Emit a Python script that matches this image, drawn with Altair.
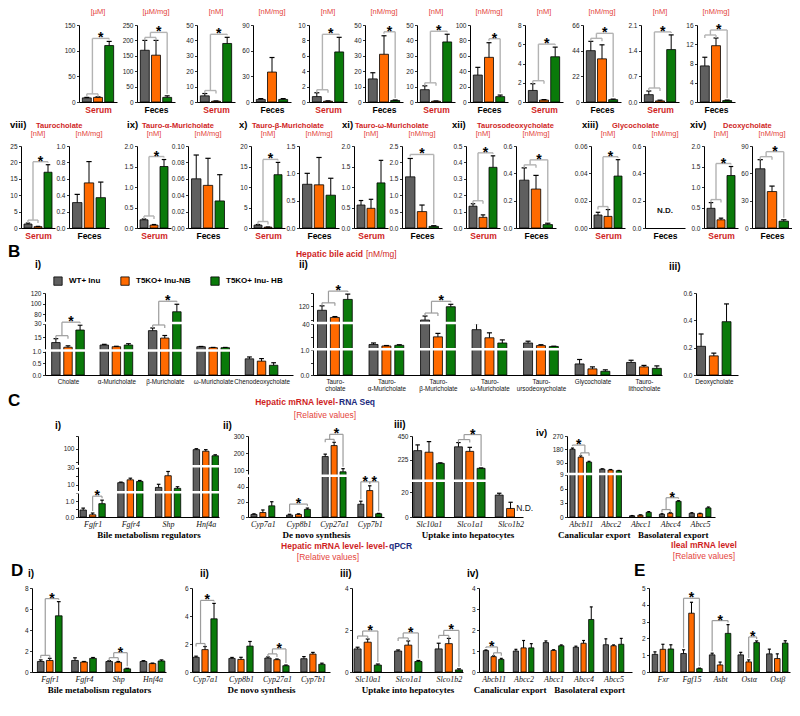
import altair as alt
import numpy as np
import pandas as pd

SANS = "Liberation Sans"
SERIF = "Liberation Serif"

GROUPS = ["WT+ Inu", "T5KO+ Inu-NB", "T5KO+ Inu- HB"]
COLORS = ["#5f5f5f", "#ff6a00", "#0a7a0a"]

UNIT_RED = "#e4443c"
HEAD_RED = "#cf1f1f"
NAVY = "#1c2b7d"

# ---------------- A (top row): serum / feces pairs ----------------
R1_UNIT = ["[µM]", "[µM/mg]", "[nM]", "[nM/mg]", "[nM]", "[nM/mg]",
           "[nM]", "[nM/mg]", "[nM]", "[nM/mg]", "[nM]", "[nM/mg]"]
R1_SITE = ["Serum", "Feces"] * 6
R1_MEAN = [[8, 9, 110], [168, 152, 15], [4, 0.5, 38], [3, 35, 3], [0.7, 0.1, 6.5], [15, 31, 1],
           [8, 0.5, 39], [35, 58, 7], [1.2, 0.2, 4.7], [44, 37, 2], [0.2, 0.03, 1.43], [7.5, 11.7, 0.3]]
R1_ERR = [[1, 1, 8], [32, 48, 5], [1.5, 0.2, 4], [1, 17, 1], [0.5, 0.05, 1.9], [4, 12, 0.3],
          [2.5, 0.2, 5], [10, 19, 2], [0.7, 0.05, 1.0], [8, 12, 0.5], [0.1, 0.02, 0.4], [1.8, 1.6, 0.1]]
R1_TICKS = [[0, 50, 100, 150], [0, 50, 100, 150, 200, 250], [0, 10, 20, 30, 40, 50], [0, 30, 60, 90],
            [0, 2, 4, 6, 8, 10], [0, 10, 20, 30, 40, 50], [0, 10, 20, 30, 40, 50], [0, 20, 40, 60, 80, 100],
            [0, 2, 4, 6, 8], [0, 22, 44, 66], [0, 0.7, 1.4, 2.1], [0, 4, 8, 12, 16]]
R1_FMT = ["d"] * 10 + [".1f", "d"]
R1_SIG = ["AB-C", "AB-C", "AB-C", None, "AB-C", "B-C", "AB-C", "B-C", "AB-C", "AB-C", "AB-C", "AB-C"]

# ---------------- A (second row) ----------------
R2_NUM = ["viii)", "ix)", "x)", "xi)", "xii)", "xiii)", "xiv)"]
R2_NAME = ["Taurocholate", "Tauro-α-Muricholate", "Tauro-β-Muricholate", "Tauro-ω-Muricholate",
           "Taurosodeoxycholate", "Glycocholate", "Deoxycholate"]
R2_UNIT = ["[nM]", "[nM/mg]"] * 7
R2_SITE = ["Serum", "Feces"] * 7
R2_MEAN = [[1.2, 0.4, 17], [0.31, 0.55, 0.37], [0.2, 0.07, 1.5], [0.06, 0.052, 0.033],
           [0.7, 0.2, 13], [0.8, 0.79, 0.6], [0.56, 0.48, 1.1], [1.56, 0.5, 0.05],
           [0.133, 0.065, 0.37], [0.35, 0.285, 0.025], [0.0095, 0.0085, 0.038], [None, None, None],
           [0.48, 0.2, 1.28], [65, 40, 7.5]]
R2_ERR = [[0.3, 0.1, 2.3], [0.1, 0.26, 0.19], [0.02, 0.015, 0.17], [0.029, 0.033, 0.032],
          [0.15, 0.05, 3], [0.2, 0.5, 0.31], [0.11, 0.22, 0.55], [0.56, 0.2, 0.02],
          [0.015, 0.015, 0.07], [0.09, 0.1, 0.01], [0.002, 0.005, 0.012], [None, None, None],
          [0.14, 0.04, 0.22], [10, 6, 1.5]]
R2_TICKS = [[0, 5, 10, 15, 20, 25], [0, 0.2, 0.4, 0.6, 0.8, 1.0], [0, 0.5, 1.0, 1.5, 2.0],
            [0, 0.02, 0.04, 0.06, 0.08, 0.1], [0, 5, 10, 15, 20], [0, 0.5, 1.0, 1.5],
            [0, 0.5, 1.0, 1.5, 2.0], [0, 0.5, 1.0, 1.5, 2.0, 2.5], [0, 0.1, 0.2, 0.3, 0.4, 0.5],
            [0, 0.2, 0.4, 0.6], [0, 0.02, 0.04, 0.06], [0, 0.2, 0.4, 0.6], [0, 0.5, 1.0, 1.5, 2.0],
            [0, 30, 60, 90]]
R2_FMT = ["d", ".1f", ".1f", ".2f", "d", ".1f", ".1f", ".1f", ".1f", ".1f", ".2f", ".1f", ".1f", "d"]
R2_SIG = ["AB-C", None, "AB-C", None, "AB-C", None, None, "A-C", "AB-C", "AB-C", "AB-C", None, "AB-C", "AB-C"]

# ---------------- B: hepatic bile acids ----------------
B1_LABELS = ["Cholate", "α-Muricholate", "β-Muricholate", "ω-Muricholate", "Chenodeoxycholate"]
B1_MEAN = [[8.8, 6.0, 22.3, 4.1, 0.70], [3.5, 4.1, 13.9, 3.0, 0.60], [23.0, 6.0, 85.0, 3.0, 0.42]]
B1_ERR = [[4.4, 0.8, 3.0, 0.3, 0.08], [1.6, 0.5, 2.9, 0.3, 0.11], [5.5, 1.5, 14.0, 0.3, 0.11]]
B1_TICKS = [0, 0.5, 1.0, 15, 30, 80, 100, 120]
B1_TEXT = ["0.0", "0.5", "1.0", "15", "30", "80", "100", "120"]
B1_SIG = [(0, "AB-C"), (2, "AB-C")]

B2_LABELS = ["Tauro-|cholate", "Tauro-|α-Muricholate", "Tauro-|β-Muricholate", "Tauro-|ω-Muricholate",
             "Tauro-|ursodeoxycholate", "Glycocholate", "Tauro-|lithocholate"]
B2_MEAN = [[102, 7.6, 58, 31.5, 10, 0.45, 0.51], [69.6, 5.2, 19.9, 18.4, 5.8, 0.25, 0.33],
           [151, 6.2, 118, 10, 4.4, 0.15, 0.27]]
B2_ERR = [[20, 2.4, 18, 12, 2.9, 0.18, 0.09], [4, 0.7, 5.6, 8, 1.4, 0.08, 0.06],
          [24, 1, 11, 5, 0.4, 0.06, 0.1]]
B2_TICKS = [0, 0.5, 1.0, 20, 40, 60, 120, 180]
B2_TEXT = ["0.0", "0.5", "1.0", "20", "40", "60", "120", "180"]
B2_SIG = [(0, "AB-C"), (2, "AB-C")]

B3_LABELS = ["Deoxycholate"]
B3_MEAN = [[0.21], [0.14], [0.39]]
B3_ERR = [[0.09], [0.02], [0.13]]
B3_TICKS = [0, 0.2, 0.4, 0.6]
B3_TEXT = ["0.0", "0.2", "0.4", "0.6"]

# ---------------- C: hepatic mRNA, RNA-seq ----------------
C1_LABELS = ["Fgfr1", "Fgfr4", "Shp", "Hnf4a"]
C1_MEAN = [[0.44, 12.4, 6.8, 97.6], [0.14, 15.8, 20.6, 91.4], [0.84, 13.9, 5.7, 74]]
C1_ERR = [[0.12, 0.7, 3.7, 3.5], [0.11, 1.9, 5, 6], [0.22, 1.1, 1.9, 3.7]]
C1_TICKS = [0, 0.5, 1.0, 1.5, 10, 20, 30, 50, 100, 150]
C1_TEXT = ["0.0", "0.5", "1.0", "1.5", "10", "20", "30", "50", "100", "150"]
C1_SIG = [(0, "B-C")]

C2_LABELS = ["Cyp7a1", "Cyp8b1", "Cyp27a1", "Cyp7b1"]
C2_MEAN = [[3.4, 2.6, 180, 16.9], [5.9, 3.4, 244, 35], [14.8, 10.1, 91, 4.3]]
C2_ERR = [[0.8, 1.0, 14, 4], [3.4, 0.8, 19, 6.3], [5.4, 1.7, 18, 0.5]]
C2_TICKS = [0, 20, 40, 100, 200, 300]
C2_TEXT = ["0", "20", "40", "100", "200", "300"]
C2_SIG = [(1, "A-C"), (2, "AB-C"), (3, "A-B"), (3, "B-C")]

C3_LABELS = ["Slc10a1", "Slco1a1", "Slco1b2"]
C3_MEAN = [[312, 348, 17.7], [297, 305, 6.9], [192, 145, None]]
C3_ERR = [[54, 40, 1.5], [100, 38, 5], [5, 4, None]]
C3_TICKS = [0, 20, 225, 450]
C3_TEXT = ["0", "20", "225", "450"]
C3_SIG = [(1, "AB-C")]

C4_LABELS = ["Abcb11", "Abcc2", "Abcc1", "Abcc4", "Abcc5"]
C4_MEAN = [[181, 48, 0.26, 0.6, 0.8], [128, 42, 0.4, 0.8, 0.7], [95, 37, 1.0, 3.36, 1.94]]
C4_ERR = [[8, 2, 0.05, 0.1, 0.12], [9, 3, 0.06, 0.15, 0.1], [5, 2, 0.15, 0.12, 0.2]]
C4_TICKS = [0, 3, 6, 9, 90, 180, 270]
C4_TEXT = ["0", "3", "6", "9", "90", "180", "270"]
C4_SIG = [(0, "A-BC"), (3, "AB-C")]

# ---------------- D: hepatic mRNA, qPCR ----------------
D1_LABELS = ["Fgfr1", "Fgfr4", "Shp", "Hnf4a"]
D1_MEAN = [[1.0, 1.1, 1.0, 1.0], [1.1, 0.95, 0.92, 0.8], [5.35, 1.3, 0.3, 1.05]]
D1_ERR = [[0.15, 0.25, 0.08, 0.08], [0.2, 0.05, 0.08, 0.05], [1.35, 0.08, 0.05, 0.1]]
D1_SIG = [(0, "AB-C"), (2, "AB-C")]

D2_LABELS = ["Cyp7a1", "Cyp8b1", "Cyp27a1", "Cyp7b1"]
D2_MEAN = [[1.05, 0.97, 1.0, 0.95], [1.6, 0.9, 0.88, 1.28], [3.8, 1.85, 0.45, 0.55]]
D2_ERR = [[0.08, 0.07, 0.08, 0.15], [0.22, 0.15, 0.05, 0.12], [1.1, 0.33, 0.05, 0.08]]
D2_SIG = [(0, "AB-C"), (2, "AB-C")]

D3_LABELS = ["Slc10a1", "Slco1a1", "Slco1b2"]
D3_MEAN = [[1.1, 1.0, 1.1], [1.42, 1.28, 1.35], [0.33, 0.5, 0.1]]
D3_ERR = [[0.08, 0.05, 0.27], [0.15, 0.2, 0.25], [0.05, 0.05, 0.05]]
D3_SIG = [(0, "AB-C"), (1, "AB-C"), (2, "AB-C")]

D4_LABELS = ["Abcb11", "Abcc2", "Abcc1", "Abcc4", "Abcc5"]
D4_MEAN = [[1.02, 1.0, 1.4, 1.18, 1.3], [0.73, 1.15, 1.03, 1.37, 1.25], [0.6, 1.15, 1.25, 2.5, 1.32]]
D4_ERR = [[0.03, 0.08, 0.08, 0.05, 0.28], [0.04, 0.35, 0.03, 0.13, 0.04], [0.05, 0.2, 0.04, 0.6, 0.28]]
D4_SIG = [(0, "A-BC")]

# ---------------- E: ileal mRNA ----------------
E_LABELS = ["Fxr", "Fgf15", "Asbt", "Ostα", "Ostβ"]
E_MEAN = [[1.05, 1.1, 1.02, 1.02, 1.08], [1.35, 3.5, 0.42, 0.6, 0.8], [1.37, 0.2, 2.3, 1.75, 1.72]]
E_ERR = [[0.15, 0.22, 0.1, 0.15, 0.28], [0.3, 0.65, 0.17, 0.12, 0.28], [0.25, 0.03, 0.52, 0.1, 0.14]]
E_SIG = [(1, "A-C"), (2, "A-C"), (3, "B-C")]

DUMMY = pd.DataFrame({"d": [0]})


def fwd_inv(dom, frac, H):
    dom = [float(v) for v in dom]
    frac = [float(v) for v in frac]

    def fwd(v):
        if v > dom[-1]:
            s = (frac[-1] - frac[-2]) / (dom[-1] - dom[-2])
            return (frac[-1] + (v - dom[-1]) * s) * H
        return float(np.interp(v, dom, frac)) * H

    def inv(p):
        f = p / H
        if f > frac[-1]:
            s = (dom[-1] - dom[-2]) / (frac[-1] - frac[-2])
            return dom[-1] + (f - frac[-1]) * s
        return float(np.interp(f, frac, dom))
    return fwd, inv


def bracket(kind, xs3, tops):
    xa, xb, xc = xs3
    ta, tb, tc = tops
    T = 3
    if kind == "AB-C":
        y1 = max(ta, tb) + 3
        y2 = max(y1 + 5, tc + 3)
        m = (xa + xb) / 2
        segs = [(xa, xa, y1 - T, y1), (xa, xb, y1, y1), (xb, xb, y1 - T, y1),
                (m, m, y1, y2), (m, xc, y2, y2), (xc, xc, min(tc + 2, y2), y2)]
        stars = [((m + xc) / 2, y2)]
    elif kind == "A-BC":
        y1 = max(tb, tc) + 3
        y2 = max(y1 + 5, ta + 3)
        m = (xb + xc) / 2
        segs = [(xb, xb, y1 - T, y1), (xb, xc, y1, y1), (xc, xc, y1 - T, y1),
                (m, m, y1, y2), (xa, m, y2, y2), (xa, xa, min(ta + 2, y2), y2)]
        stars = [((xa + m) / 2, y2)]
    else:
        p, q = kind.split("-")
        idx = {"A": 0, "B": 1, "C": 2}
        i, j = idx[p], idx[q]
        y2 = max(tops[i:j + 1]) + 4
        segs = [(xs3[i], xs3[i], tops[i] + 2, y2), (xs3[i], xs3[j], y2, y2), (xs3[j], xs3[j], tops[j] + 2, y2)]
        stars = [((xs3[i] + xs3[j]) / 2, y2)]
    return segs, stars


def lab_expr(vals, texts):
    parts = [f"datum.value == {v} ? '{t}'" for v, t in zip(vals, texts)]
    return " : ".join(parts) + " : ''"


def tmark(txt, x, y, size, color, weight, align="left", font=SANS):
    return alt.Chart(DUMMY).mark_text(text=txt, fontSize=size, color=color, fontWeight=weight, align=align,
                                      baseline="middle", font=font).encode(x=alt.value(x), y=alt.value(y))


def spacer(w):
    return alt.Chart(DUMMY).mark_text(text=" ", fontSize=1).encode(
        x=alt.value(0), y=alt.value(0)).properties(width=w, height=10)


def panel(labels, means, errs, width, height, extent, xdom, gap, bw, ydom, yfrac, yticks, ytext,
          xtitle=None, xtitle_color="black", xtitle_font=SANS, xtitle_size=8.5,
          xlabels=True, label_font=SANS, label_style="normal", label_weight="normal", label_size=7.0,
          breaks=(), sigs=(), nds=(), group_texts=(), legend=None, extras=(),
          bcolor="#9c9c9c", bwidth=1.2, star_size=14):
    step = 3 + gap
    fwd, inv = fwd_inv(ydom, yfrac, height)
    rows = []
    for i, lab in enumerate(labels):
        for g in range(3):
            m = means[g][i]
            if m is None:
                continue
            e = errs[g][i] or 0.0
            rows.append(dict(cat=lab, group=GROUPS[g], color=COLORS[g], pos=i * step + g,
                             mean=float(m), top=float(m + e), base=0.0))
    df = pd.DataFrame(rows, columns=["cat", "group", "color", "pos", "mean", "top", "base"])
    xs = alt.Scale(domain=list(xdom), nice=False, zero=False)
    if len(ydom) > 2:
        ys = alt.Scale(domain=list(ydom), range=[height * (1 - f) for f in yfrac], nice=False, zero=False)
    else:
        ys = alt.Scale(domain=list(ydom), nice=False, zero=False)
    yaxis = alt.Axis(values=list(yticks), labelExpr=lab_expr(yticks, ytext), title=None, grid=False,
                     ticks=True, tickSize=2.5, tickWidth=0.8, domainWidth=1, labelFontSize=6.5,
                     labelPadding=1.5, minExtent=extent, maxExtent=extent, labelFont=SANS,
                     labelColor="#222222")
    if xlabels:
        arr = "[" + ",".join("'" + l + "'" for l in labels) + "]"
        xaxis = alt.Axis(values=[i * step + 1 for i in range(len(labels))],
                         labelExpr=f"split({arr}[round((datum.value - 1) / {step})], '|')",
                         ticks=False, grid=False, labelAngle=0, labelFlush=False, labelOverlap=False,
                         labelFont=label_font, labelFontStyle=label_style, labelFontWeight=label_weight,
                         labelFontSize=label_size, labelLineHeight=label_size + 1, labelPadding=3,
                         labelColor="#111111", title=xtitle, titleFont=xtitle_font, titleFontWeight="bold",
                         titleFontSize=xtitle_size, titleColor=xtitle_color, titlePadding=2, domainWidth=1)
    else:
        xaxis = alt.Axis(labels=False, ticks=False, grid=False, title=xtitle, titleFont=xtitle_font,
                         titleFontWeight="bold", titleFontSize=xtitle_size, titleColor=xtitle_color,
                         titlePadding=3, domainWidth=1)
    if legend is not None:
        lx, ly = legend
        color = alt.Color("group:N", scale=alt.Scale(domain=GROUPS, range=COLORS),
                          legend=alt.Legend(orient="none", legendX=lx, legendY=ly, direction="horizontal",
                                            title=None, symbolType="square", symbolSize=70,
                                            symbolStrokeColor="black", symbolStrokeWidth=0.8,
                                            labelFont=SANS, labelFontSize=8, labelFontWeight="bold",
                                            labelColor="black", columnPadding=18, padding=0, labelOffset=6))
    else:
        color = alt.Color("color:N", scale=None)

    def X(f):
        return alt.X(f, scale=xs, axis=xaxis)

    def Y(f):
        return alt.Y(f, scale=ys, axis=yaxis)

    layers = []
    if len(df):
        base = alt.Chart(df)
        bars = base.transform_calculate(
            x0=f"datum.pos - {bw / 2}", x1=f"datum.pos + {bw / 2}"
        ).mark_rect(stroke="black", strokeWidth=0.8).encode(
            x=X("x0:Q"), x2="x1:Q", y=Y("mean:Q"), y2="base:Q", color=color)
        stems = base.mark_rule(color="black", strokeWidth=1).encode(x=X("pos:Q"), y=Y("mean:Q"), y2="top:Q")
        cw = bw * 0.28
        caps = base.transform_calculate(
            c0=f"datum.pos - {cw}", c1=f"datum.pos + {cw}"
        ).mark_rule(color="black", strokeWidth=1.2).encode(x=X("c0:Q"), x2="c1:Q", y=Y("top:Q"))
        layers += [bars, stems, caps]
    if breaks:
        bdf = pd.DataFrame({"y": list(breaks)})
        layers.append(alt.Chart(bdf).mark_rule(color="white", strokeWidth=2.5).encode(
            y=Y("y:Q"), x=alt.value(-3), x2=alt.value(width)))
    segs, stars = [], []
    for i, kind in sigs:
        xs3 = [i * step + g for g in range(3)]
        tops = []
        for g in range(3):
            m = means[g][i]
            tops.append(fwd(m + (errs[g][i] or 0)) if m is not None else 0.0)
        s, st = bracket(kind, xs3, tops)
        segs += s
        stars += st
    if segs:
        sdf = pd.DataFrame([dict(x=a, x2=b, y=inv(c), y2=inv(d)) for a, b, c, d in segs])
        layers.append(alt.Chart(sdf).mark_rule(color=bcolor, strokeWidth=bwidth).encode(
            x=X("x:Q"), x2="x2:Q", y=Y("y:Q"), y2="y2:Q"))
        tdf = pd.DataFrame([dict(x=a, y=inv(b - 4)) for a, b in stars])
        layers.append(alt.Chart(tdf).mark_text(text="*", fontSize=star_size, fontWeight="bold", font=SANS,
                                               baseline="alphabetic", align="center", color="black").encode(
            x=X("x:Q"), y=Y("y:Q")))
    for (xv, yv, align, weight, size) in nds:
        ndf = pd.DataFrame({"x": [xv], "y": [yv]})
        layers.append(alt.Chart(ndf).mark_text(text="N.D.", fontSize=size, fontWeight=weight, font=SANS,
                                               align=align, baseline="bottom", color="#111111").encode(
            x=X("x:Q"), y=Y("y:Q")))
    if group_texts:
        gdf = pd.DataFrame({"label": [g[0] for g in group_texts],
                            "x": [g[1] * step + 1 for g in group_texts]})
        layers.append(alt.Chart(gdf).mark_text(font=SERIF, fontWeight="bold", fontSize=9,
                                               baseline="top", align="center", color="black").encode(
            x=X("x:Q"), y=alt.value(height + 14), text="label:N"))
    layers += list(extras)
    return alt.layer(*layers).properties(width=width, height=height)


def single(mean3, err3, ticks, fmt, unit, site, sig, width, height, extent, unit_y):
    means = [[m] for m in mean3]
    errs = [[e] for e in err3]
    ytext = [format(t, fmt) for t in ticks]
    nds = []
    if all(m is None for m in mean3):
        nds = [(1.0, ticks[-1] * 0.16, "center", "bold", 8)]
    return panel(["x"], means, errs, width, height, extent, [-0.7, 2.7], 1, 0.8,
                 [0, ticks[-1]], [0, 1], ticks, ytext,
                 xtitle=site, xtitle_color=(HEAD_RED if site == "Serum" else "black"),
                 xlabels=False, sigs=([(0, sig)] if sig else []), nds=nds,
                 bcolor="#b3b3b3", bwidth=1.4, star_size=14,
                 extras=[tmark(unit, width / 2, unit_y, 7.5, UNIT_RED, "normal", "center")])


def header(width, height, items):
    layers = [tmark(txt, x, y, size, color, weight, align) for txt, x, y, size, color, weight, align in items]
    return alt.layer(*layers).properties(width=width, height=height)


def lbl(txt, x, y, size=10):
    return tmark(txt, x, y, size, "black", "bold", "left")


# ---------------- rows ----------------
H1, H2, HB, HC, HD = 77, 82, 82, 81, 84

R1_EXT = [14, 20, 22, 18, 18, 18, 14, 14, 17, 20, 20, 18]
row1 = alt.hconcat(spacer(56), *[
    single(R1_MEAN[k], R1_ERR[k], R1_TICKS[k], R1_FMT[k], R1_UNIT[k], R1_SITE[k], R1_SIG[k],
           38, H1, R1_EXT[k], -13) for k in range(12)], spacing=0)

R2_EXT = [11, 12, 28, 17, 23, 14, 15, 14, 24, 16, 35, 20, 19, 14]
row2 = alt.hconcat(spacer(1), *[
    single(R2_MEAN[k], R2_ERR[k], R2_TICKS[k], R2_FMT[k], R2_UNIT[k], R2_SITE[k], R2_SIG[k],
           (34 if k % 2 == 0 else 40), H2, R2_EXT[k], -12) for k in range(14)], spacing=0)

num_x = [2, 119, 231, 334, 444, 574, 682]
name_x = [28, 134, 244, 347, 469, 604, 715]
hdr2_items = []
for k in range(7):
    hdr2_items.append((R2_NUM[k], num_x[k], 11, 9.5, "black", "bold", "left"))
    hdr2_items.append((R2_NAME[k], name_x[k], 12, 7.5, HEAD_RED, "bold", "left"))
hdr2 = header(780, 16, hdr2_items)

hdrB = header(780, 18, [
    ("B", 0, 12, 17, "black", "bold", "left"),
    ("Hepatic bile acid", 355, 14, 8.5, HEAD_RED, "bold", "right"),
    ("[nM/mg]", 358, 14, 8.5, HEAD_RED, "normal", "left"),
])

blab = dict(label_weight="normal", label_size=6.3)
Bi = panel(B1_LABELS, B1_MEAN, B1_ERR, 248, HB, 27, [-0.9, 19.6], 1, 0.7,
           [0, 1, 1.6, 30, 66, 120], [0, 0.282, 0.318, 0.624, 0.647, 1], B1_TICKS, B1_TEXT,
           breaks=[1.3, 48], sigs=B1_SIG, legend=(8, -17),
           extras=[lbl("i)", -10, -28)], **blab)
Bii = panel(B2_LABELS, B2_MEAN, B2_ERR, 349, HB, 16, [-0.7, 26.4], 1, 0.7,
            [0, 1, 2, 40, 50, 180], [0, 0.30, 0.33, 0.617, 0.649, 1], B2_TICKS, B2_TEXT,
            breaks=[1.5, 45], sigs=B2_SIG, extras=[lbl("ii)", -14, -28)], **blab)
Biii = panel(B3_LABELS, B3_MEAN, B3_ERR, 42, HB, 30, [-0.4, 2.9], 1, 0.7,
             [0, 0.6], [0, 1], B3_TICKS, B3_TEXT, extras=[lbl("iii)", -27, -26)], **blab)
rowB = alt.hconcat(spacer(8), Bi, Bii, Biii, spacing=2).resolve_scale(
    color="independent").resolve_legend(color="independent")

hdrC = header(780, 22, [
    ("C", 0, 6, 17, "black", "bold", "left"),
    ("Hepatic mRNA level-", 330, 7, 8.5, HEAD_RED, "bold", "right"),
    ("RNA Seq", 331, 7, 8.5, NAVY, "bold", "left"),
    ("[Relative values]", 317, 20, 8.5, UNIT_RED, "normal", "center"),
])

gene_kw = dict(label_font=SERIF, label_style="italic", label_size=8, xtitle_font=SERIF, xtitle_size=9)
Ci = panel(C1_LABELS, C1_MEAN, C1_ERR, 141, HC, 60, [-0.55, 14.4], 1, 0.68,
           [0, 1.5, 2.5, 30, 40, 150], [0, 0.294, 0.32, 0.608, 0.647, 1], C1_TICKS, C1_TEXT,
           xtitle="Bile metabolism regulators", breaks=[2.0, 35], sigs=C1_SIG,
           extras=[lbl("i)", -23, -10)], **gene_kw)
Cii = panel(C2_LABELS, C2_MEAN, C2_ERR, 136, HC, 25, [-0.67, 14.6], 1, 0.68,
            [0, 52, 80, 300], [0, 0.485, 0.535, 1], C2_TICKS, C2_TEXT,
            xtitle="De novo synthesis", breaks=[66], sigs=C2_SIG,
            extras=[lbl("ii)", -25, -10)], **gene_kw)
Ciii = panel(C3_LABELS, C3_MEAN, C3_ERR, 111, HC, 24, [-0.5, 9.3], 0.6, 0.7,
             [0, 28, 45, 450], [0, 0.428, 0.47, 1], C3_TICKS, C3_TEXT,
             xtitle="Uptake into hepatocytes", breaks=[36], sigs=C3_SIG,
             nds=[(8.7, 3.0, "left", "normal", 8.5)], extras=[lbl("iii)", -18, -11)], **gene_kw)
Civ = panel(C4_LABELS, C4_MEAN, C4_ERR, 148, HC, 31, [-0.66, 17.2], 0.6, 0.62,
            [0, 9, 20, 270], [0, 0.52, 0.54, 1], C4_TICKS, C4_TEXT,
            breaks=[14.5], sigs=C4_SIG,
            group_texts=[("Canalicular export", 0.45), ("Basolateral export", 3.1)],
            extras=[lbl("iv)", -31, -3, 9.5)], **gene_kw)
rowC = alt.hconcat(spacer(8), Ci, Cii, Ciii, Civ, spacing=2)

hdrD = header(780, 22, [
    ("Hepatic mRNA level- level-", 380, 6, 8.5, HEAD_RED, "bold", "right"),
    ("qPCR", 381, 6, 8.5, NAVY, "bold", "left"),
    ("[Relative values]", 320, 17, 8.5, UNIT_RED, "normal", "center"),
    ("Ileal mRNA level", 696, 5, 8.5, HEAD_RED, "bold", "center"),
    ("[Relative values]", 696, 16, 8.5, UNIT_RED, "normal", "center"),
])

Di = panel(D1_LABELS, D1_MEAN, D1_ERR, 134, HD, 21, [-0.97, 13.9], 0.8, 0.74,
           [0, 8], [0, 1], [0, 2, 4, 6, 8], ["0", "2", "4", "6", "8"],
           xtitle="Bile metabolism regulators", sigs=D1_SIG,
           extras=[lbl("D", -21, -17, 17), lbl("i)", -4, -14)], **gene_kw)
Dii = panel(D2_LABELS, D2_MEAN, D2_ERR, 138, HD, 24, [-0.45, 14.9], 1, 0.7,
            [0, 6], [0, 1], [0, 2, 4, 6], ["0", "2", "4", "6"],
            xtitle="De novo synthesis", sigs=D2_SIG, extras=[lbl("ii)", 8, -14)], **gene_kw)
Diii = panel(D3_LABELS, D3_MEAN, D3_ERR, 111, HD, 20, [-0.55, 10.4], 1, 0.7,
             [0, 4], [0, 1], [0, 2, 4], ["0", "2", "4"],
             xtitle="Uptake into hepatocytes", sigs=D3_SIG, extras=[lbl("iii)", -12, -14)], **gene_kw)
Div = panel(D4_LABELS, D4_MEAN, D4_ERR, 153, HD, 14, [-0.9, 19], 0.9, 0.68,
            [0, 4], [0, 1], [0, 1, 2, 3, 4], ["0", "1", "2", "3", "4"],
            sigs=D4_SIG, group_texts=[("Canalicular export", 0.55), ("Basolateral export", 3.2)],
            extras=[lbl("iv)", -12, -14)], **gene_kw)
Ep = panel(E_LABELS, E_MEAN, E_ERR, 141, HD, 15, [-0.75, 17.0], 0.6, 0.7,
           [0, 5], [0, 1], [0, 1, 2, 3, 4, 5], ["0", "1", "2", "3", "4", "5"],
           sigs=E_SIG, extras=[lbl("E", -15, -17, 17)], **gene_kw)
rowD = alt.hconcat(spacer(1), Di, Dii, Diii, Div, Ep, spacing=2)

chart = alt.vconcat(row1, hdr2, row2, hdrB, rowB, hdrC, rowC, hdrD, rowD, spacing=0).properties(
    padding=0
).resolve_scale(color="independent").resolve_legend(color="independent").configure_view(
    stroke=None
).configure_axis(
    domainColor="black", tickColor="black", grid=False, labelFont=SANS, titleFont=SANS
)

chart.save("out.html", embed_options={"renderer": "svg", "actions": False})
